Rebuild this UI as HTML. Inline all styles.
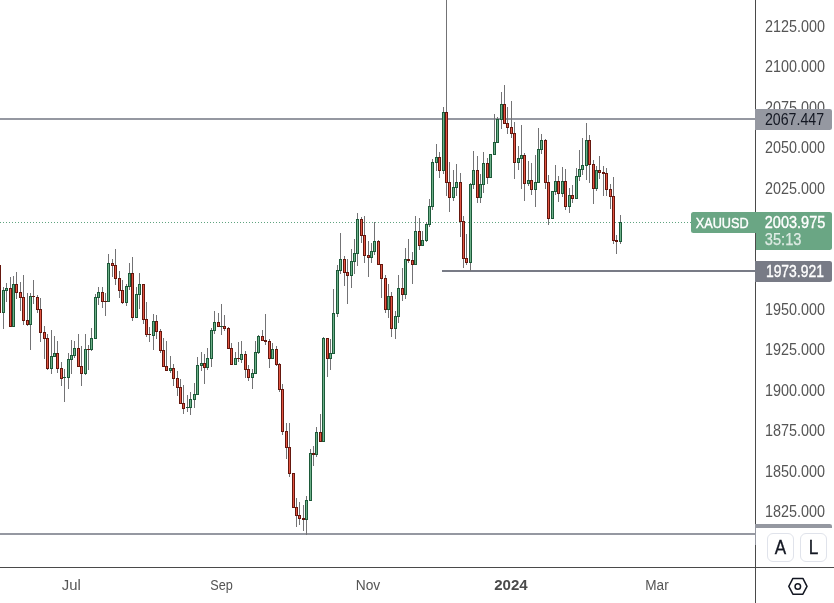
<!DOCTYPE html>
<html><head><meta charset="utf-8"><title>XAUUSD</title>
<style>html,body{margin:0;padding:0;background:#fff;}body{width:834px;height:603px;overflow:hidden;}svg{display:block;}text{font-family:"Liberation Sans",sans-serif;}</style></head><body>
<svg width="834" height="603" viewBox="0 0 834 603">
<rect width="834" height="603" fill="#fff"/>
<g shape-rendering="crispEdges">
<rect x="0" y="118" width="755" height="2" fill="#9598a1"/>
<rect x="442" y="270" width="313" height="2" fill="#787b86"/>
<rect x="0" y="533" width="755" height="2" fill="#9598a1"/>
<line x1="0" y1="222.5" x2="691" y2="222.5" stroke="#5fa37f" stroke-width="1" stroke-dasharray="1 2"/>
<path d="M-0.5 265V313M3.5 287V329M6.5 283V302M10.5 277V327M13.5 276V327M16.5 272V299M20.5 282V311M23.5 275V325M27.5 293V326M30.5 293V350M33.5 280V304M37.5 295V313M40.5 298V342M44.5 326V359M47.5 334V370M51.5 330V374M54.5 336V357M57.5 341V373M61.5 362V386M64.5 369V402M68.5 353V389M71.5 340V374M74.5 341V358M78.5 334V367M81.5 346V386M85.5 334V375M88.5 345V370M91.5 328V351M95.5 294V339M98.5 287V305M102.5 287V308M105.5 293V316M108.5 254V302M112.5 259V277M115.5 249V285M119.5 271V298M122.5 280V304M126.5 284V306M129.5 263V290M132.5 257V321M136.5 287V318M139.5 273V309M143.5 284V324M146.5 302V337M149.5 327V342M153.5 314V350M156.5 315V339M160.5 329V353M163.5 338V367M166.5 341V371M170.5 356V373M173.5 364V386M177.5 371V396M180.5 379V404M183.5 385V414M187.5 395V412M190.5 392V415M194.5 383V408M197.5 357V395M201.5 352V371M204.5 354V384M207.5 348V370M211.5 328V367M214.5 311V334M218.5 313V327M221.5 304V335M224.5 315V331M228.5 327V349M231.5 343V365M235.5 352V365M238.5 342V362M241.5 341V363M245.5 351V378M248.5 365V381M252.5 369V389M255.5 341V374M258.5 335V354M262.5 330V341M265.5 314V345M269.5 339V368M272.5 343V359M276.5 346V366M279.5 363V392M282.5 384V435M286.5 423V459M289.5 423V477M293.5 473V508M296.5 498V527M299.5 502V525M303.5 505V531M306.5 496V535M310.5 449V501M313.5 446V466M316.5 427V457M320.5 414V442M323.5 337V442M327.5 338V377M330.5 339V370M333.5 289V354M337.5 265V317M340.5 233V274M344.5 256V286M347.5 259V304M351.5 249V288M354.5 239V274M357.5 213V266M361.5 217V243M364.5 216V263M368.5 241V277M371.5 243V263M374.5 222V255M378.5 240V265M381.5 264V298M385.5 275V313M388.5 284V318M391.5 292V337M395.5 311V339M398.5 275V323M402.5 268V301M405.5 248V299M408.5 239V263M412.5 252V284M415.5 216V265M419.5 218V250M422.5 231V246M426.5 222V242M429.5 199V227M432.5 159V210M436.5 144V171M439.5 152V178M443.5 107V174M446.5 0V196M449.5 162V212M453.5 170V201M456.5 164V196M460.5 173V237M463.5 216V268M466.5 234V265M470.5 183V271M473.5 151V189M477.5 156V203M480.5 174V203M483.5 152V193M487.5 158V184M490.5 154V178M494.5 114V155M497.5 117V143M501.5 92V129M504.5 85V124M507.5 107V134M511.5 101V138M514.5 122V179M518.5 146V170M521.5 125V189M524.5 153V201M528.5 161V186M531.5 163V195M535.5 155V207M538.5 128V183M541.5 134V154M545.5 139V189M548.5 175V225M552.5 191V219M555.5 165V195M558.5 176V202M562.5 167V197M565.5 169V210M569.5 188V213M572.5 185V203M576.5 168V199M579.5 150V181M582.5 138V175M586.5 123V180M589.5 135V183M593.5 160V204M596.5 166V191M599.5 156V179M603.5 166V196M606.5 168V196M610.5 184V209M613.5 177V244M616.5 235V254M620.5 215V244" stroke="#737375" stroke-width="1" fill="none"/>
<g fill="#1c5a39"><rect x="2" y="290" width="3" height="23"/><rect x="5" y="288" width="3" height="3"/><rect x="12" y="284" width="3" height="43"/><rect x="29" y="296" width="3" height="29"/><rect x="50" y="356" width="3" height="13"/><rect x="53" y="353" width="3" height="4"/><rect x="63" y="377" width="3" height="1"/><rect x="67" y="359" width="3" height="19"/><rect x="70" y="355" width="3" height="5"/><rect x="73" y="348" width="3" height="8"/><rect x="84" y="349" width="3" height="25"/><rect x="90" y="338" width="3" height="12"/><rect x="94" y="297" width="3" height="42"/><rect x="97" y="292" width="3" height="6"/><rect x="107" y="263" width="3" height="39"/><rect x="125" y="286" width="3" height="17"/><rect x="128" y="273" width="3" height="14"/><rect x="135" y="294" width="3" height="24"/><rect x="138" y="284" width="3" height="11"/><rect x="152" y="321" width="3" height="15"/><rect x="169" y="368" width="3" height="3"/><rect x="186" y="407" width="3" height="1"/><rect x="189" y="399" width="3" height="9"/><rect x="193" y="394" width="3" height="6"/><rect x="196" y="365" width="3" height="30"/><rect x="200" y="363" width="3" height="3"/><rect x="206" y="358" width="3" height="10"/><rect x="210" y="330" width="3" height="29"/><rect x="213" y="322" width="3" height="9"/><rect x="220" y="326" width="3" height="1"/><rect x="234" y="358" width="3" height="7"/><rect x="240" y="354" width="3" height="6"/><rect x="251" y="373" width="3" height="5"/><rect x="254" y="352" width="3" height="22"/><rect x="257" y="336" width="3" height="17"/><rect x="271" y="349" width="3" height="10"/><rect x="305" y="500" width="3" height="20"/><rect x="309" y="453" width="3" height="48"/><rect x="315" y="432" width="3" height="23"/><rect x="322" y="338" width="3" height="104"/><rect x="329" y="353" width="3" height="6"/><rect x="332" y="313" width="3" height="41"/><rect x="336" y="270" width="3" height="44"/><rect x="339" y="259" width="3" height="12"/><rect x="350" y="261" width="3" height="15"/><rect x="353" y="253" width="3" height="9"/><rect x="356" y="219" width="3" height="35"/><rect x="370" y="251" width="3" height="7"/><rect x="373" y="241" width="3" height="11"/><rect x="387" y="296" width="3" height="14"/><rect x="394" y="316" width="3" height="13"/><rect x="397" y="288" width="3" height="29"/><rect x="404" y="259" width="3" height="36"/><rect x="414" y="231" width="3" height="34"/><rect x="421" y="240" width="3" height="6"/><rect x="425" y="224" width="3" height="17"/><rect x="428" y="206" width="3" height="19"/><rect x="431" y="162" width="3" height="45"/><rect x="435" y="157" width="3" height="6"/><rect x="442" y="112" width="3" height="59"/><rect x="452" y="187" width="3" height="11"/><rect x="455" y="182" width="3" height="6"/><rect x="469" y="184" width="3" height="79"/><rect x="472" y="170" width="3" height="15"/><rect x="479" y="184" width="3" height="14"/><rect x="482" y="163" width="3" height="22"/><rect x="489" y="154" width="3" height="24"/><rect x="493" y="142" width="3" height="13"/><rect x="496" y="119" width="3" height="24"/><rect x="500" y="104" width="3" height="16"/><rect x="517" y="158" width="3" height="5"/><rect x="520" y="155" width="3" height="4"/><rect x="527" y="180" width="3" height="4"/><rect x="534" y="182" width="3" height="8"/><rect x="537" y="149" width="3" height="34"/><rect x="540" y="140" width="3" height="10"/><rect x="551" y="191" width="3" height="28"/><rect x="554" y="181" width="3" height="11"/><rect x="561" y="181" width="3" height="13"/><rect x="568" y="195" width="3" height="12"/><rect x="575" y="176" width="3" height="23"/><rect x="578" y="169" width="3" height="8"/><rect x="581" y="165" width="3" height="5"/><rect x="585" y="140" width="3" height="26"/><rect x="595" y="170" width="3" height="19"/><rect x="619" y="222" width="3" height="20"/></g>
<g fill="#6db089"><rect x="3" y="291" width="1" height="21"/><rect x="6" y="289" width="1" height="1"/><rect x="13" y="285" width="1" height="41"/><rect x="30" y="297" width="1" height="27"/><rect x="51" y="357" width="1" height="11"/><rect x="54" y="354" width="1" height="2"/><rect x="68" y="360" width="1" height="17"/><rect x="71" y="356" width="1" height="3"/><rect x="74" y="349" width="1" height="6"/><rect x="85" y="350" width="1" height="23"/><rect x="91" y="339" width="1" height="10"/><rect x="95" y="298" width="1" height="40"/><rect x="98" y="293" width="1" height="4"/><rect x="108" y="264" width="1" height="37"/><rect x="126" y="287" width="1" height="15"/><rect x="129" y="274" width="1" height="12"/><rect x="136" y="295" width="1" height="22"/><rect x="139" y="285" width="1" height="9"/><rect x="153" y="322" width="1" height="13"/><rect x="170" y="369" width="1" height="1"/><rect x="190" y="400" width="1" height="7"/><rect x="194" y="395" width="1" height="4"/><rect x="197" y="366" width="1" height="28"/><rect x="201" y="364" width="1" height="1"/><rect x="207" y="359" width="1" height="8"/><rect x="211" y="331" width="1" height="27"/><rect x="214" y="323" width="1" height="7"/><rect x="235" y="359" width="1" height="5"/><rect x="241" y="355" width="1" height="4"/><rect x="252" y="374" width="1" height="3"/><rect x="255" y="353" width="1" height="20"/><rect x="258" y="337" width="1" height="15"/><rect x="272" y="350" width="1" height="8"/><rect x="306" y="501" width="1" height="18"/><rect x="310" y="454" width="1" height="46"/><rect x="316" y="433" width="1" height="21"/><rect x="323" y="339" width="1" height="102"/><rect x="330" y="354" width="1" height="4"/><rect x="333" y="314" width="1" height="39"/><rect x="337" y="271" width="1" height="42"/><rect x="340" y="260" width="1" height="10"/><rect x="351" y="262" width="1" height="13"/><rect x="354" y="254" width="1" height="7"/><rect x="357" y="220" width="1" height="33"/><rect x="371" y="252" width="1" height="5"/><rect x="374" y="242" width="1" height="9"/><rect x="388" y="297" width="1" height="12"/><rect x="395" y="317" width="1" height="11"/><rect x="398" y="289" width="1" height="27"/><rect x="405" y="260" width="1" height="34"/><rect x="415" y="232" width="1" height="32"/><rect x="422" y="241" width="1" height="4"/><rect x="426" y="225" width="1" height="15"/><rect x="429" y="207" width="1" height="17"/><rect x="432" y="163" width="1" height="43"/><rect x="436" y="158" width="1" height="4"/><rect x="443" y="113" width="1" height="57"/><rect x="453" y="188" width="1" height="9"/><rect x="456" y="183" width="1" height="4"/><rect x="470" y="185" width="1" height="77"/><rect x="473" y="171" width="1" height="13"/><rect x="480" y="185" width="1" height="12"/><rect x="483" y="164" width="1" height="20"/><rect x="490" y="155" width="1" height="22"/><rect x="494" y="143" width="1" height="11"/><rect x="497" y="120" width="1" height="22"/><rect x="501" y="105" width="1" height="14"/><rect x="518" y="159" width="1" height="3"/><rect x="521" y="156" width="1" height="2"/><rect x="528" y="181" width="1" height="2"/><rect x="535" y="183" width="1" height="6"/><rect x="538" y="150" width="1" height="32"/><rect x="541" y="141" width="1" height="8"/><rect x="552" y="192" width="1" height="26"/><rect x="555" y="182" width="1" height="9"/><rect x="562" y="182" width="1" height="11"/><rect x="569" y="196" width="1" height="10"/><rect x="576" y="177" width="1" height="21"/><rect x="579" y="170" width="1" height="6"/><rect x="582" y="166" width="1" height="3"/><rect x="586" y="141" width="1" height="24"/><rect x="596" y="171" width="1" height="17"/><rect x="620" y="223" width="1" height="18"/></g>
<g fill="#65170e"><rect x="-2" y="265" width="3" height="48"/><rect x="9" y="288" width="3" height="39"/><rect x="15" y="284" width="3" height="9"/><rect x="19" y="292" width="3" height="6"/><rect x="22" y="297" width="3" height="24"/><rect x="26" y="320" width="3" height="5"/><rect x="32" y="296" width="3" height="1"/><rect x="36" y="297" width="3" height="13"/><rect x="39" y="309" width="3" height="24"/><rect x="43" y="332" width="3" height="7"/><rect x="46" y="338" width="3" height="31"/><rect x="56" y="353" width="3" height="16"/><rect x="60" y="368" width="3" height="11"/><rect x="77" y="348" width="3" height="19"/><rect x="80" y="366" width="3" height="8"/><rect x="87" y="349" width="3" height="1"/><rect x="101" y="292" width="3" height="10"/><rect x="104" y="301" width="3" height="1"/><rect x="111" y="263" width="3" height="3"/><rect x="114" y="265" width="3" height="14"/><rect x="118" y="278" width="3" height="13"/><rect x="121" y="290" width="3" height="13"/><rect x="131" y="273" width="3" height="45"/><rect x="142" y="284" width="3" height="36"/><rect x="145" y="319" width="3" height="16"/><rect x="148" y="334" width="3" height="1"/><rect x="155" y="321" width="3" height="11"/><rect x="159" y="331" width="3" height="20"/><rect x="162" y="350" width="3" height="17"/><rect x="165" y="366" width="3" height="5"/><rect x="172" y="368" width="3" height="11"/><rect x="176" y="378" width="3" height="10"/><rect x="179" y="387" width="3" height="17"/><rect x="182" y="403" width="3" height="6"/><rect x="203" y="363" width="3" height="5"/><rect x="217" y="322" width="3" height="5"/><rect x="223" y="326" width="3" height="3"/><rect x="227" y="328" width="3" height="21"/><rect x="230" y="348" width="3" height="17"/><rect x="237" y="358" width="3" height="1"/><rect x="244" y="354" width="3" height="16"/><rect x="247" y="369" width="3" height="9"/><rect x="261" y="336" width="3" height="5"/><rect x="264" y="340" width="3" height="2"/><rect x="268" y="341" width="3" height="18"/><rect x="275" y="349" width="3" height="16"/><rect x="278" y="364" width="3" height="26"/><rect x="281" y="389" width="3" height="43"/><rect x="285" y="431" width="3" height="17"/><rect x="288" y="447" width="3" height="27"/><rect x="292" y="473" width="3" height="35"/><rect x="295" y="507" width="3" height="9"/><rect x="298" y="515" width="3" height="4"/><rect x="302" y="518" width="3" height="2"/><rect x="312" y="453" width="3" height="2"/><rect x="319" y="432" width="3" height="10"/><rect x="326" y="338" width="3" height="21"/><rect x="343" y="259" width="3" height="14"/><rect x="346" y="272" width="3" height="4"/><rect x="360" y="219" width="3" height="17"/><rect x="363" y="235" width="3" height="21"/><rect x="367" y="255" width="3" height="3"/><rect x="377" y="241" width="3" height="24"/><rect x="380" y="264" width="3" height="15"/><rect x="384" y="278" width="3" height="32"/><rect x="390" y="296" width="3" height="33"/><rect x="401" y="288" width="3" height="7"/><rect x="407" y="259" width="3" height="2"/><rect x="411" y="260" width="3" height="5"/><rect x="418" y="231" width="3" height="15"/><rect x="438" y="157" width="3" height="14"/><rect x="445" y="112" width="3" height="71"/><rect x="448" y="182" width="3" height="16"/><rect x="459" y="182" width="3" height="40"/><rect x="462" y="221" width="3" height="38"/><rect x="465" y="258" width="3" height="5"/><rect x="476" y="170" width="3" height="28"/><rect x="486" y="163" width="3" height="15"/><rect x="503" y="104" width="3" height="20"/><rect x="506" y="123" width="3" height="5"/><rect x="510" y="127" width="3" height="7"/><rect x="513" y="133" width="3" height="30"/><rect x="523" y="155" width="3" height="29"/><rect x="530" y="180" width="3" height="10"/><rect x="544" y="140" width="3" height="43"/><rect x="547" y="182" width="3" height="37"/><rect x="557" y="181" width="3" height="13"/><rect x="564" y="181" width="3" height="26"/><rect x="571" y="195" width="3" height="4"/><rect x="588" y="140" width="3" height="25"/><rect x="592" y="164" width="3" height="25"/><rect x="598" y="170" width="3" height="3"/><rect x="602" y="172" width="3" height="2"/><rect x="605" y="173" width="3" height="17"/><rect x="609" y="189" width="3" height="8"/><rect x="612" y="196" width="3" height="45"/><rect x="615" y="240" width="3" height="2"/></g>
<g fill="#e25543"><rect x="-1" y="266" width="1" height="46"/><rect x="10" y="289" width="1" height="37"/><rect x="16" y="285" width="1" height="7"/><rect x="20" y="293" width="1" height="4"/><rect x="23" y="298" width="1" height="22"/><rect x="27" y="321" width="1" height="3"/><rect x="37" y="298" width="1" height="11"/><rect x="40" y="310" width="1" height="22"/><rect x="44" y="333" width="1" height="5"/><rect x="47" y="339" width="1" height="29"/><rect x="57" y="354" width="1" height="14"/><rect x="61" y="369" width="1" height="9"/><rect x="78" y="349" width="1" height="17"/><rect x="81" y="367" width="1" height="6"/><rect x="102" y="293" width="1" height="8"/><rect x="112" y="264" width="1" height="1"/><rect x="115" y="266" width="1" height="12"/><rect x="119" y="279" width="1" height="11"/><rect x="122" y="291" width="1" height="11"/><rect x="132" y="274" width="1" height="43"/><rect x="143" y="285" width="1" height="34"/><rect x="146" y="320" width="1" height="14"/><rect x="156" y="322" width="1" height="9"/><rect x="160" y="332" width="1" height="18"/><rect x="163" y="351" width="1" height="15"/><rect x="166" y="367" width="1" height="3"/><rect x="173" y="369" width="1" height="9"/><rect x="177" y="379" width="1" height="8"/><rect x="180" y="388" width="1" height="15"/><rect x="183" y="404" width="1" height="4"/><rect x="204" y="364" width="1" height="3"/><rect x="218" y="323" width="1" height="3"/><rect x="224" y="327" width="1" height="1"/><rect x="228" y="329" width="1" height="19"/><rect x="231" y="349" width="1" height="15"/><rect x="245" y="355" width="1" height="14"/><rect x="248" y="370" width="1" height="7"/><rect x="262" y="337" width="1" height="3"/><rect x="269" y="342" width="1" height="16"/><rect x="276" y="350" width="1" height="14"/><rect x="279" y="365" width="1" height="24"/><rect x="282" y="390" width="1" height="41"/><rect x="286" y="432" width="1" height="15"/><rect x="289" y="448" width="1" height="25"/><rect x="293" y="474" width="1" height="33"/><rect x="296" y="508" width="1" height="7"/><rect x="299" y="516" width="1" height="2"/><rect x="320" y="433" width="1" height="8"/><rect x="327" y="339" width="1" height="19"/><rect x="344" y="260" width="1" height="12"/><rect x="347" y="273" width="1" height="2"/><rect x="361" y="220" width="1" height="15"/><rect x="364" y="236" width="1" height="19"/><rect x="368" y="256" width="1" height="1"/><rect x="378" y="242" width="1" height="22"/><rect x="381" y="265" width="1" height="13"/><rect x="385" y="279" width="1" height="30"/><rect x="391" y="297" width="1" height="31"/><rect x="402" y="289" width="1" height="5"/><rect x="412" y="261" width="1" height="3"/><rect x="419" y="232" width="1" height="13"/><rect x="439" y="158" width="1" height="12"/><rect x="446" y="113" width="1" height="69"/><rect x="449" y="183" width="1" height="14"/><rect x="460" y="183" width="1" height="38"/><rect x="463" y="222" width="1" height="36"/><rect x="466" y="259" width="1" height="3"/><rect x="477" y="171" width="1" height="26"/><rect x="487" y="164" width="1" height="13"/><rect x="504" y="105" width="1" height="18"/><rect x="507" y="124" width="1" height="3"/><rect x="511" y="128" width="1" height="5"/><rect x="514" y="134" width="1" height="28"/><rect x="524" y="156" width="1" height="27"/><rect x="531" y="181" width="1" height="8"/><rect x="545" y="141" width="1" height="41"/><rect x="548" y="183" width="1" height="35"/><rect x="558" y="182" width="1" height="11"/><rect x="565" y="182" width="1" height="24"/><rect x="572" y="196" width="1" height="2"/><rect x="589" y="141" width="1" height="23"/><rect x="593" y="165" width="1" height="23"/><rect x="599" y="171" width="1" height="1"/><rect x="606" y="174" width="1" height="15"/><rect x="610" y="190" width="1" height="6"/><rect x="613" y="197" width="1" height="43"/></g>
<rect x="755" y="0" width="1" height="603" fill="#4a4a4a"/>
<rect x="0" y="567" width="834" height="1" fill="#4a4a4a"/>
</g>
<g font-size="15.7" fill="#555">
<text x="765" y="32" textLength="60" lengthAdjust="spacingAndGlyphs">2125.000</text>
<text x="765" y="72" textLength="60" lengthAdjust="spacingAndGlyphs">2100.000</text>
<text x="765" y="113" textLength="60" lengthAdjust="spacingAndGlyphs">2075.000</text>
<text x="765" y="153" textLength="60" lengthAdjust="spacingAndGlyphs">2050.000</text>
<text x="765" y="194" textLength="60" lengthAdjust="spacingAndGlyphs">2025.000</text>
<text x="765" y="315" textLength="60" lengthAdjust="spacingAndGlyphs">1950.000</text>
<text x="765" y="355" textLength="60" lengthAdjust="spacingAndGlyphs">1925.000</text>
<text x="765" y="396" textLength="60" lengthAdjust="spacingAndGlyphs">1900.000</text>
<text x="765" y="436" textLength="60" lengthAdjust="spacingAndGlyphs">1875.000</text>
<text x="765" y="477" textLength="60" lengthAdjust="spacingAndGlyphs">1850.000</text>
<text x="765" y="517" textLength="60" lengthAdjust="spacingAndGlyphs">1825.000</text>
</g>
<path d="M755 109H829.5a2.5 2.5 0 0 1 2.5 2.5V127.5a2.5 2.5 0 0 1-2.5 2.5H755Z" fill="#9598a1"/>
<text x="765" y="125" font-size="15.8" fill="#131722" textLength="59" lengthAdjust="spacingAndGlyphs">2067.447</text>
<path d="M693.5 212H829.5a2.5 2.5 0 0 1 2.5 2.5V247.5a2.5 2.5 0 0 1-2.5 2.5H756V233H693.5a2.5 2.5 0 0 1-2.5-2.5V214.5a2.5 2.5 0 0 1 2.5-2.5Z" fill="#6aa684"/>
<text x="695.7" y="228" font-size="15.2" fill="#fff" stroke="#fff" stroke-width="0.4" textLength="53" lengthAdjust="spacingAndGlyphs">XAUUSD</text>
<text x="764.8" y="228" font-size="16" fill="#fff" stroke="#fff" stroke-width="0.35" textLength="60.5" lengthAdjust="spacingAndGlyphs">2003.975</text>
<text x="764.8" y="245" font-size="16.3" fill="#fff" fill-opacity="0.75" stroke="#fff" stroke-opacity="0.75" stroke-width="0.25" textLength="36.6" lengthAdjust="spacingAndGlyphs">35:13</text>
<path d="M755 261H829.5a2.5 2.5 0 0 1 2.5 2.5V279.5a2.5 2.5 0 0 1-2.5 2.5H755Z" fill="#787b86"/>
<text x="765.9" y="277" font-size="16" fill="#fff" stroke="#fff" stroke-width="0.35" textLength="58" lengthAdjust="spacingAndGlyphs">1973.921</text>
<path d="M755 524H829.5a2.5 2.5 0 0 1 2.5 2.5V545H755Z" fill="#9598a1"/>
<rect x="756" y="528" width="78" height="39" fill="#fff"/>
<rect x="767.5" y="533.5" width="26" height="28" rx="5.5" fill="#fff" stroke="#e0e3eb"/>
<rect x="800.5" y="533.5" width="26" height="28" rx="5.5" fill="#fff" stroke="#e0e3eb"/>
<text x="780.5" y="554" font-size="20" fill="#131722" stroke="#131722" stroke-width="0.3" text-anchor="middle" textLength="11.4" lengthAdjust="spacingAndGlyphs">A</text>
<text x="813.5" y="554" font-size="20" fill="#131722" stroke="#131722" stroke-width="0.3" text-anchor="middle" textLength="9.6" lengthAdjust="spacingAndGlyphs">L</text>
<g fill="none" stroke="#131722" stroke-width="1.5"><path d="M807.00 586.30L802.90 594.15L792.90 594.15L788.80 586.30L792.90 578.45L802.90 578.45Z" stroke-linejoin="round"/><circle cx="797.8" cy="586.4" r="2.75"/></g>
<g font-size="15.2" fill="#555" text-anchor="middle">
<text x="71.3" y="590" textLength="19" lengthAdjust="spacingAndGlyphs">Jul</text>
<text x="221.5" y="590" textLength="22.6" lengthAdjust="spacingAndGlyphs">Sep</text>
<text x="368" y="590" textLength="24.5" lengthAdjust="spacingAndGlyphs">Nov</text>
<text x="511" y="590" font-weight="bold" fill="#4a4a4a" textLength="33.5" lengthAdjust="spacingAndGlyphs">2024</text>
<text x="657" y="590" textLength="23.4" lengthAdjust="spacingAndGlyphs">Mar</text>
</g>
</svg></body></html>
